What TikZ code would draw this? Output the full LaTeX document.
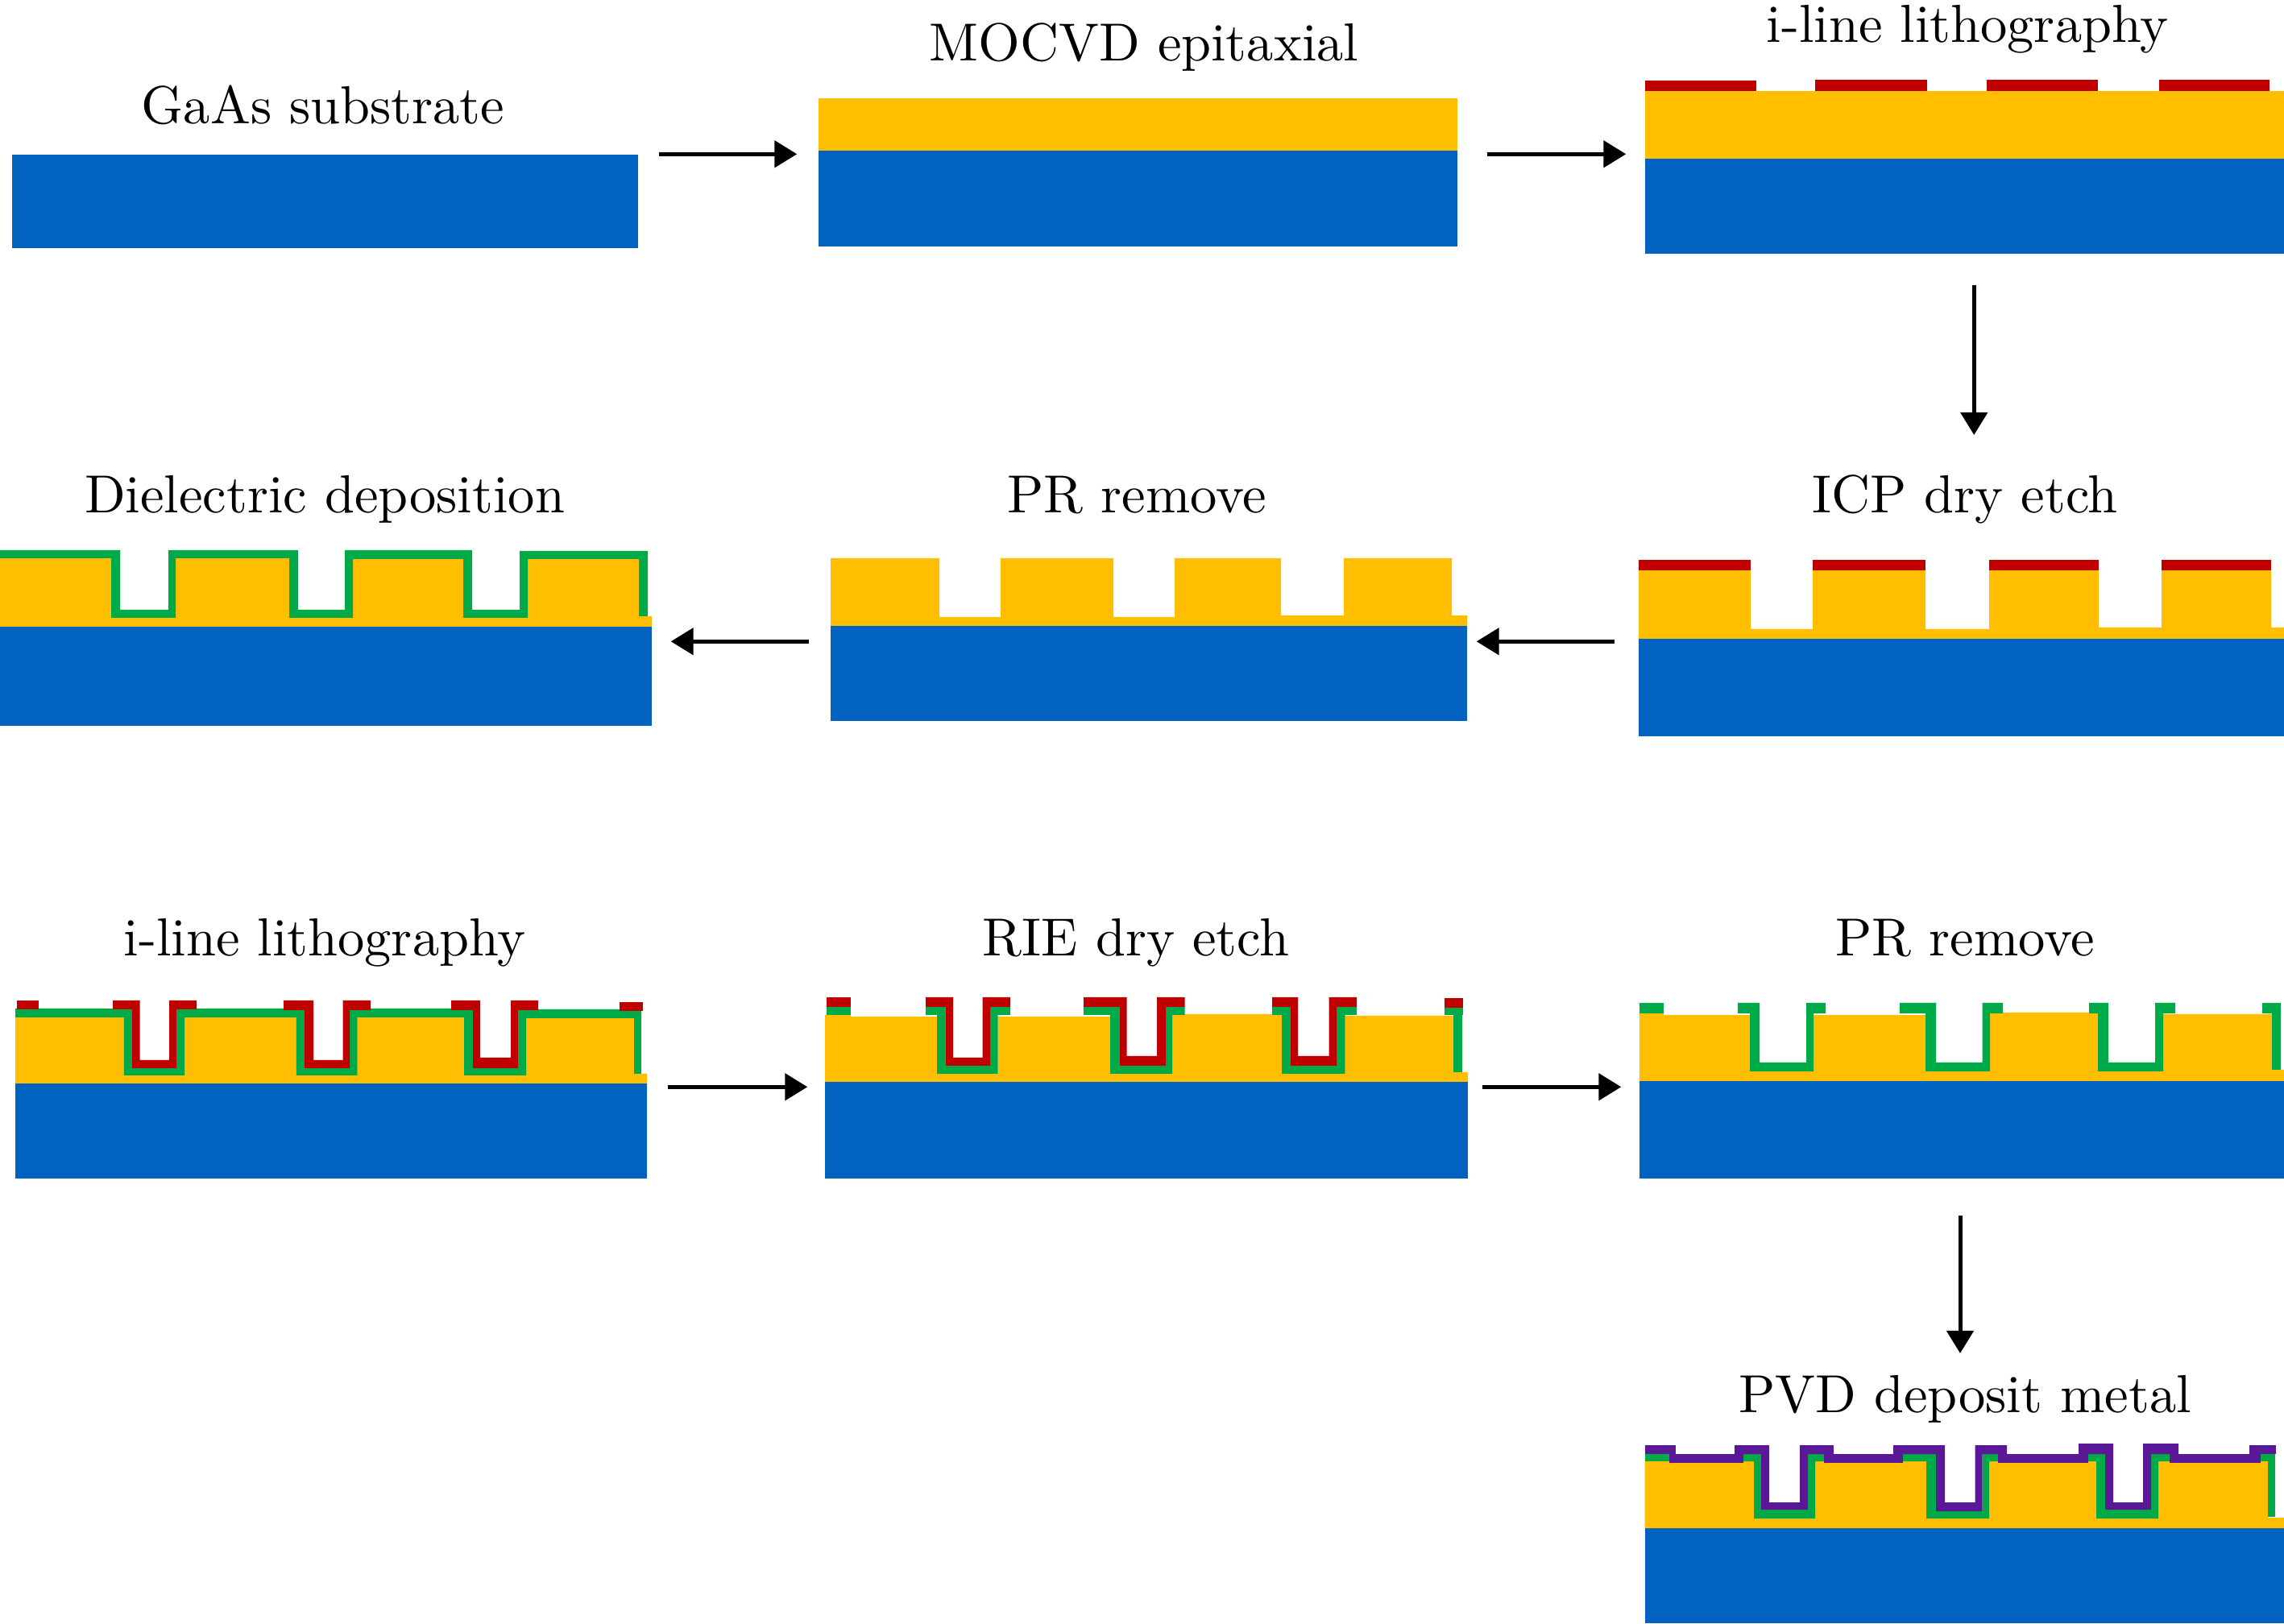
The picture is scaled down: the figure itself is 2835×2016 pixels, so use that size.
\documentclass[tikz,border=0pt]{standalone}
\usepackage{tikz}
\usetikzlibrary{arrows.meta,fit}
\definecolor{gaasblue}{RGB}{1,98,192}
\definecolor{epigold}{RGB}{255,190,0}
\definecolor{sinxgreen}{RGB}{0,170,72}
\definecolor{prred}{RGB}{192,0,0}
\definecolor{metalpurple}{RGB}{90,24,150}
\newcommand{\trenches}[2]{\foreach \pa/\oa/\ia/\ib/\ob/\pb/\yt/\yb/\yf/\yd in {#2} {
    \fill[#1] (\pa,\yt) -- (\ia,\yt) -- (\ia,\yf) -- (\ib,\yf) -- (\ib,\yt) -- (\pb,\yt) -- (\pb,\yb) -- (\ob,\yb) -- (\ob,\yd) -- (\oa,\yd) -- (\oa,\yb) -- (\pa,\yb) -- cycle;
}}
\newcommand{\pads}[2]{\foreach \xa/\ya/\xb/\yb in {#2} {\fill[#1] (\xa,\ya) rectangle (\xb,\yb);}}

\begin{document}
\begin{tikzpicture}[
    x=0.01cm, y=-0.01cm,
    gaas/.style={fill=gaasblue, inner sep=0pt},
    epi/.style={fill=epigold},
    sinx/.style={fill=sinxgreen},
    resist/.style={fill=prred},
    metal/.style={fill=metalpurple},
    steplabel/.style={anchor=base, scale=1.89},
    arrow/.style={-{Triangle[length=0.28cm,width=0.33cm]}, line width=0.05cm}
]
\useasboundingbox (0,0) rectangle (2835,2016);

\node[gaas, fit={(15,192) (791.5,308)}] (sub1) {};
\node[gaas, fit={(1016,187) (1809,306)}] (sub2) {};
\node[gaas, fit={(2041.5,197) (2835,315)}] (sub3) {};
\node[gaas, fit={(2034,793) (2835,914)}] (sub4) {};
\node[gaas, fit={(1031,777) (1821,895)}] (sub5) {};
\node[gaas, fit={(0,778) (809,901)}] (sub6) {};
\node[gaas, fit={(19,1345) (803,1463)}] (sub7) {};
\node[gaas, fit={(1024,1343) (1822,1463)}] (sub8) {};
\node[gaas, fit={(2035,1342) (2835,1463)}] (sub9) {};
\node[gaas, fit={(2041.5,1897) (2835,2015)}] (sub10) {};

\node[steplabel] (gaaslabel) at (401,153.5) {GaAs substrate};
\node[steplabel] (mocvdlabel) at (1420,75.5) {MOCVD epitaxial};
\node[steplabel] (litholabel) at (2442,52.5) {i-line lithography};
\node[steplabel] (icplabel) at (2439,636.5) {ICP dry etch};
\node[steplabel] (prlabel) at (1411,636.5) {PR remove};
\node[steplabel] (dielabel) at (403,636.5) {Dielectric deposition};
\node[steplabel] (litholabelb) at (403,1186.5) {i-line lithography};
\node[steplabel] (rielabel) at (1410,1186.5) {RIE dry etch};
\node[steplabel] (prlabelb) at (2439,1186.5) {PR remove};
\node[steplabel] (pvdlabel) at (2439,1753.5) {PVD deposit metal};

\fill[epi] (1016,122) rectangle (1809,187);

\fill[epi] (2041.5,113) rectangle (2835,197);
\pads{resist}{2041.5/100/2179.5/113, 2253/99/2392/113, 2466/99/2604/113, 2680/99/2817/113}

\fill[epi] (2034,793) -- (2034,708) -- (2173,708) -- (2173,781) -- (2250,781) -- (2250,708) -- (2390,708) -- (2390,781) -- (2469,781) -- (2469,708) -- (2605,708) -- (2605,779) -- (2683,779) -- (2683,708) -- (2819,708) -- (2819,779) -- (2835,779) -- (2835,793) -- cycle;
\pads{resist}{2034/695/2173/708, 2250/695/2390/708, 2469/695/2605/708, 2683/695/2819/708}

\fill[epi] (1031,777) -- (1031,693) -- (1166,693) -- (1166,766) -- (1242,766) -- (1242,693) -- (1382,693) -- (1382,766) -- (1458,766) -- (1458,693) -- (1590,693) -- (1590,764) -- (1668,764) -- (1668,693) -- (1802,693) -- (1802,764) -- (1821,764) -- (1821,777) -- cycle;

\fill[epi] (0,778) -- (0,693) -- (138,693) -- (138,767) -- (218,767) -- (218,693) -- (359,693) -- (359,767) -- (438,767) -- (438,694) -- (575,694) -- (575,767) -- (655,767) -- (655,694) -- (793,694) -- (793,765) -- (809,765) -- (809,778) -- cycle;
\fill[sinx] (0,683) -- (149,683) -- (149,757) -- (209,757) -- (209,683) -- (370,683) -- (370,757) -- (428,757) -- (428,683) -- (586,683) -- (586,757) -- (645,757) -- (645,684) -- (804,684) -- (804,765) -- (793,765) -- (793,694) -- (655,694) -- (655,767) -- (575,767) -- (575,694) -- (438,694) -- (438,767) -- (359,767) -- (359,693) -- (218,693) -- (218,767) -- (138,767) -- (138,693) -- (0,693) -- cycle;

\fill[epi] (19,1345) -- (19,1263) -- (153.5,1263) -- (153.5,1335) -- (229,1335) -- (229,1263) -- (367.5,1263) -- (367.5,1335) -- (443.5,1335) -- (443.5,1263) -- (576,1263) -- (576,1335) -- (653,1335) -- (653,1264) -- (787,1264) -- (787,1333) -- (803,1333) -- (803,1345) -- cycle;
\fill[sinx] (19,1252) -- (164,1252) -- (164,1326) -- (219.5,1326) -- (219.5,1252) -- (378,1252) -- (378,1326) -- (434,1326) -- (434,1252) -- (587,1252) -- (587,1326) -- (643.5,1326) -- (643.5,1253) -- (796,1253) -- (796,1333) -- (787,1333) -- (787,1264) -- (653,1264) -- (653,1335) -- (576,1335) -- (576,1263) -- (443.5,1263) -- (443.5,1335) -- (367.5,1335) -- (367.5,1263) -- (229,1263) -- (229,1335) -- (153.5,1335) -- (153.5,1263) -- (19,1263) -- cycle;
\trenches{resist}{140/164/173.5/210/219.5/244/1242/1253/1316/1326, 352/378/389/425.5/434/460/1242/1254/1316/1326, 560/587/596/634/643.5/668/1242/1254/1313/1326}
\pads{resist}{21/1242/48/1253, 769/1244/798/1255}

\fill[epi] (1024,1343) -- (1024,1260) -- (1056,1260) -- (1056,1262) -- (1163,1262) -- (1163,1333) -- (1238.5,1333) -- (1238.5,1262) -- (1378,1262) -- (1378,1333) -- (1455,1333) -- (1455,1259) -- (1591,1259) -- (1591,1333) -- (1669.5,1333) -- (1669.5,1261) -- (1804,1261) -- (1804,1331) -- (1822,1331) -- (1822,1343) -- cycle;
\trenches{sinx}{1149/1163/1173.5/1229/1238.5/1254/1250/1260/1323/1333, 1345/1378/1390/1447/1455/1470.5/1250/1260/1323/1333, 1579/1591/1602/1659/1669.5/1684/1250/1260/1323/1333}
\pads{sinx}{1026/1250/1056/1260, 1793/1250/1816/1260, 1804/1250/1815/1331}
\trenches{resist}{1149/1173.5/1183/1219.5/1229/1254/1238/1250/1313/1323, 1345/1390/1398.5/1436/1447/1470.5/1238/1250/1311/1323, 1579/1602/1611/1649.5/1659/1684/1238/1250/1311/1323}
\pads{resist}{1026/1238/1056/1250, 1793/1239/1816/1251}

\fill[epi] (2035,1342) -- (2035,1258) -- (2065,1258) -- (2065,1260) -- (2172,1260) -- (2172,1330) -- (2251,1330) -- (2251,1260) -- (2390,1260) -- (2390,1330) -- (2470,1330) -- (2470,1257) -- (2604,1257) -- (2604,1330) -- (2685,1330) -- (2685,1259) -- (2820,1259) -- (2820,1328) -- (2835,1328) -- (2835,1342) -- cycle;
\trenches{sinx}{2157/2172/2184/2242/2251/2266/1245/1258/1319/1330, 2358/2390/2403/2460.5/2470/2486/1245/1258/1319/1330, 2593/2604/2617/2675/2685/2700/1245/1258/1319/1330}
\pads{sinx}{2035/1245/2065/1258, 2808/1245/2831/1258, 2820/1245/2831/1328}

\fill[epi] (2041.5,1897) -- (2041.5,1814) -- (2177,1814) -- (2177,1885) -- (2253,1885) -- (2253,1814) -- (2391,1814) -- (2391,1885) -- (2469,1885) -- (2469,1814) -- (2602,1814) -- (2602,1885) -- (2679,1885) -- (2679,1814) -- (2815,1814) -- (2815,1884) -- (2835,1884) -- (2835,1897) -- cycle;
\trenches{sinx}{2162/2177/2186/2244/2253/2266/1804/1814/1874/1885, 2359/2391/2403/2460.5/2469/2482/1804/1814/1876/1885, 2590/2602/2613/2670/2679/2695/1804/1814/1874/1885}
\pads{sinx}{2041.5/1804/2072/1814, 2804/1804/2824/1814, 2815/1804/2824/1883}
\trenches{metal}{2153/2186/2196/2234/2244/2276/1794/1805/1865/1874, 2350/2403/2414/2451.5/2460.5/2491/1794/1805/1865/1876, 2580/2613/2623/2660/2670/2704/1792/1805/1865/1874}
\pads{metal}{2041.5/1794/2080/1805, 2792/1794/2825/1805, 2072/1805/2164/1816, 2264/1805/2362/1816, 2480/1805/2592/1816, 2693/1805/2806/1816}

\draw[arrow, shorten <=0.255cm, shorten >=0.26cm] (sub1.north east) -- (sub1.north east -| sub2.west);
\draw[arrow, shorten <=0.36cm, shorten >=0.225cm] (sub2.east |- sub1.north) -- (sub3.west |- sub1.north);
\draw[arrow, shorten <=0.38cm, shorten >=0.965cm] ([xshift=0.12cm]sub3.south) -- ([xshift=0.12cm]sub3.south |- icplabel.base);
\draw[arrow, shorten <=0.29cm, shorten >=0.11cm] ([yshift=-0.04cm]sub4.north west) -- ([yshift=-0.04cm]sub4.north west -| sub5.east);
\draw[arrow, shorten <=0.26cm, shorten >=0.23cm] ([yshift=-0.04cm]sub5.west |- sub4.north) -- ([yshift=-0.04cm]sub6.east |- sub4.north);
\draw[arrow, shorten <=0.25cm, shorten >=0.21cm] ([yshift=-0.05cm]sub7.north east) -- ([yshift=-0.05cm]sub7.north east -| sub8.west);
\draw[arrow, shorten <=0.17cm, shorten >=0.22cm] ([yshift=-0.05cm]sub8.east |- sub7.north) -- ([yshift=-0.05cm]sub9.west |- sub7.north);
\draw[arrow, shorten <=0.45cm, shorten >=0.735cm] ([xshift=-0.02cm]sub9.south) -- ([xshift=-0.02cm]sub9.south |- pvdlabel.base);
\end{tikzpicture}
\end{document}
